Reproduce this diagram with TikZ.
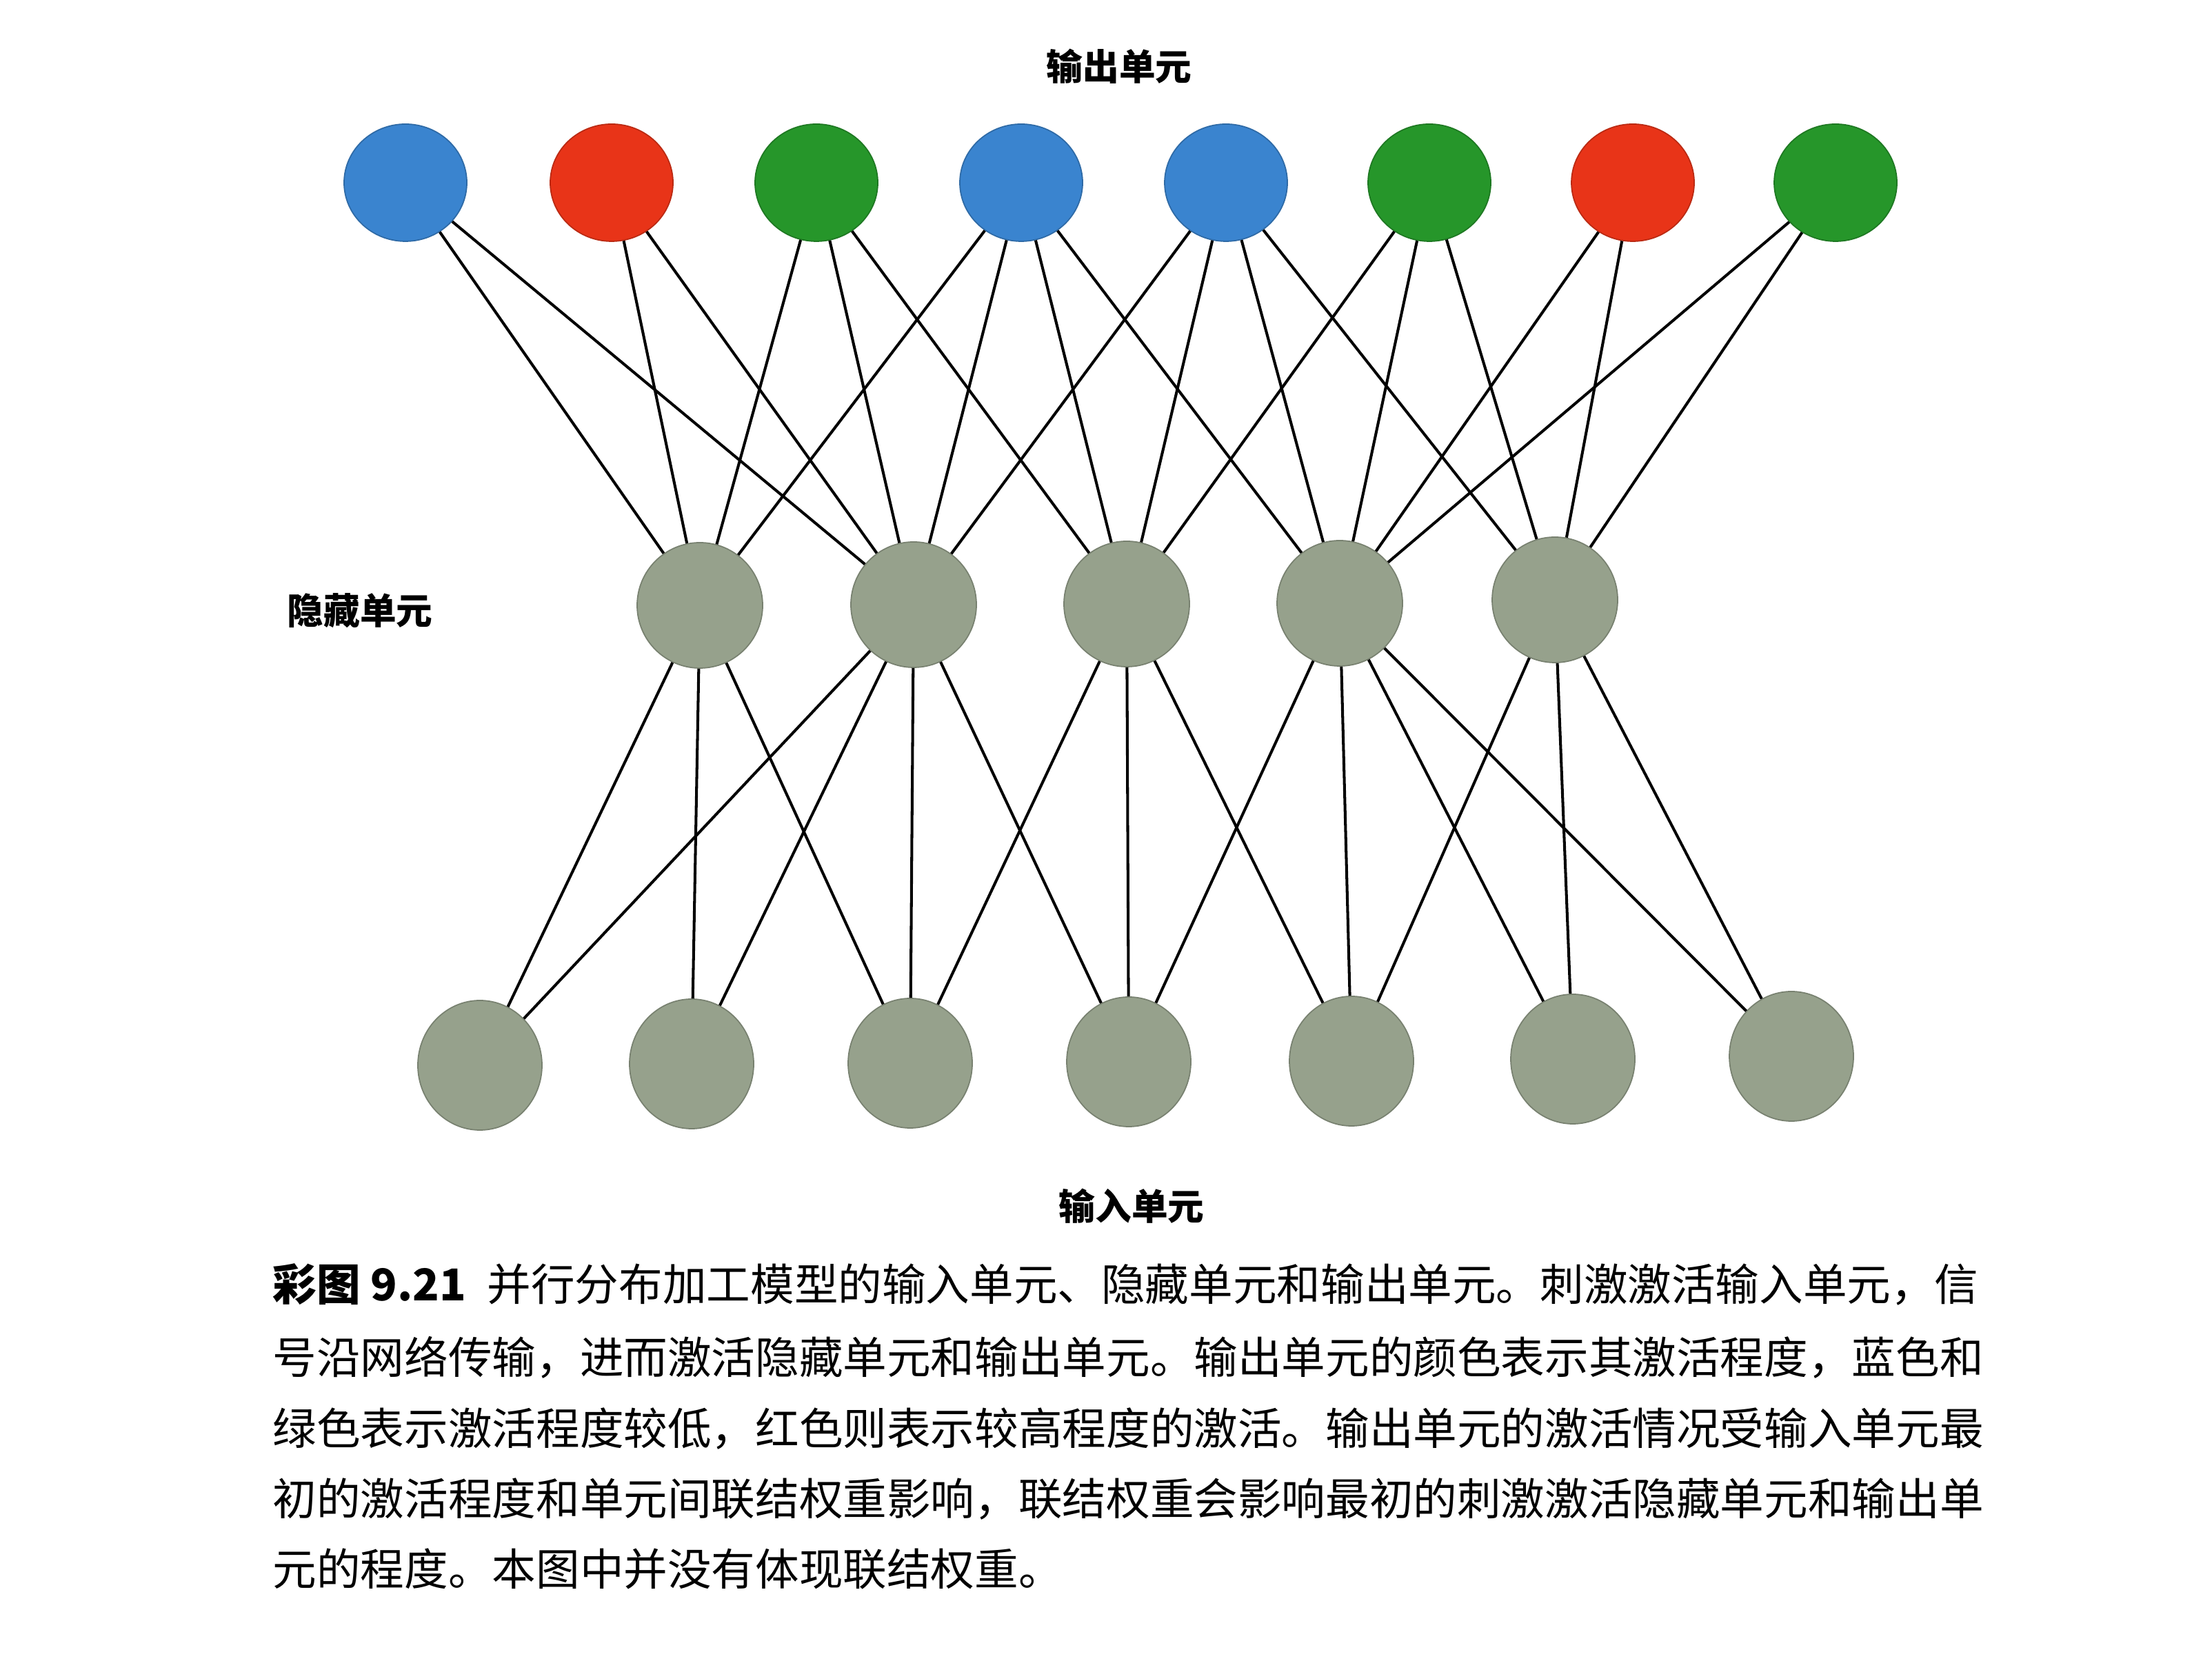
\documentclass[tikz,border=0pt]{standalone}
\usepackage{fontspec}
\setmainfont{Noto Sans CJK SC}
\usetikzlibrary{shapes.geometric}

\definecolor{outblue}{RGB}{58,132,207}
\definecolor{outred}{RGB}{232,52,24}
\definecolor{outgreen}{RGB}{38,150,42}
\definecolor{unitgray}{RGB}{150,161,140}

\tikzset{
  unitbase/.style={ellipse,inner sep=0pt,draw=#1!80!black,line width=0.5pt,fill=#1},
  outunit/.style={unitbase=#1,minimum width=1.78cm,minimum height=1.70cm},
  hidunit/.style={unitbase=unitgray,minimum width=1.82cm,minimum height=1.82cm},
  inunit/.style={unitbase=unitgray,minimum width=1.80cm,minimum height=1.88cm},
  link/.style={line width=1.15pt,black},
  layername/.style={font=\fontsize{15pt}{18pt}\selectfont\bfseries},
  captext/.style={font=\fontsize{18.1pt}{22pt}\selectfont,anchor=base west,inner sep=0pt}
}

\begin{document}
\begin{tikzpicture}
\useasboundingbox (0,0) rectangle (32.08,24.08);

% output units
\node[outunit=outblue] (o1) at (5.88,21.43) {};
\node[outunit=outred] (o2) at (8.87,21.43) {};
\node[outunit=outgreen] (o3) at (11.84,21.43) {};
\node[outunit=outblue] (o4) at (14.81,21.43) {};
\node[outunit=outblue] (o5) at (17.78,21.43) {};
\node[outunit=outgreen] (o6) at (20.73,21.43) {};
\node[outunit=outred] (o7) at (23.68,21.43) {};
\node[outunit=outgreen] (o8) at (26.62,21.43) {};

% hidden units
\node[hidunit] (h1) at (10.15,15.30) {};
\node[hidunit] (h2) at (13.25,15.31) {};
\node[hidunit] (h3) at (16.34,15.32) {};
\node[hidunit] (h4) at (19.43,15.33) {};
\node[hidunit] (h5) at (22.55,15.38) {};

% input units
\node[inunit] (i1) at (6.96,8.63) {};
\node[inunit] (i2) at (10.03,8.65) {};
\node[inunit] (i3) at (13.20,8.66) {};
\node[inunit] (i4) at (16.37,8.68) {};
\node[inunit] (i5) at (19.60,8.69) {};
\node[inunit] (i6) at (22.81,8.72) {};
\node[inunit] (i7) at (25.98,8.76) {};

% output -- hidden
\draw[link] (o1) -- (h1) (o1) -- (h2);
\draw[link] (o2) -- (h1) (o2) -- (h2);
\draw[link] (o3) -- (h1) (o3) -- (h2) (o3) -- (h3);
\draw[link] (o4) -- (h1) (o4) -- (h2) (o4) -- (h3) (o4) -- (h4);
\draw[link] (o5) -- (h2) (o5) -- (h3) (o5) -- (h4) (o5) -- (h5);
\draw[link] (o6) -- (h3) (o6) -- (h4) (o6) -- (h5);
\draw[link] (o7) -- (h4) (o7) -- (h5);
\draw[link] (o8) -- (h4) (o8) -- (h5);

% hidden -- input
\draw[link] (i1) -- (h1) (i1) -- (h2);
\draw[link] (i2) -- (h1) (i2) -- (h2);
\draw[link] (i3) -- (h1) (i3) -- (h2) (i3) -- (h3);
\draw[link] (i4) -- (h2) (i4) -- (h3) (i4) -- (h4);
\draw[link] (i5) -- (h3) (i5) -- (h4) (i5) -- (h5);
\draw[link] (i6) -- (h4) (i6) -- (h5);
\draw[link] (i7) -- (h4) (i7) -- (h5);

% layer names
\node[layername] (outname) at (16.23,23.12) {输出单元};
\node[layername] (hidname) at (5.22,15.22) {隐藏单元};
\node[layername] (inname) at (16.41,6.59) {输入单元};

% caption
\node[captext] (capnum) at (3.95,5.21) {\bfseries 彩图 9.21};
\node[captext] (cap1) at (7.06,5.21) {并行分布加工模型的输入单元、隐藏单元和输出单元。刺激激活输入单元，信};
\node[captext] (cap2) at (3.95,4.15) {号沿网络传输，进而激活隐藏单元和输出单元。输出单元的颜色表示其激活程度，蓝色和};
\node[captext] (cap3) at (3.95,3.12) {绿色表示激活程度较低，红色则表示较高程度的激活。输出单元的激活情况受输入单元最};
\node[captext] (cap4) at (3.95,2.10) {初的激活程度和单元间联结权重影响，联结权重会影响最初的刺激激活隐藏单元和输出单};
\node[captext] (cap5) at (3.95,1.08) {元的程度。本图中并没有体现联结权重。};
\end{tikzpicture}
\end{document}
